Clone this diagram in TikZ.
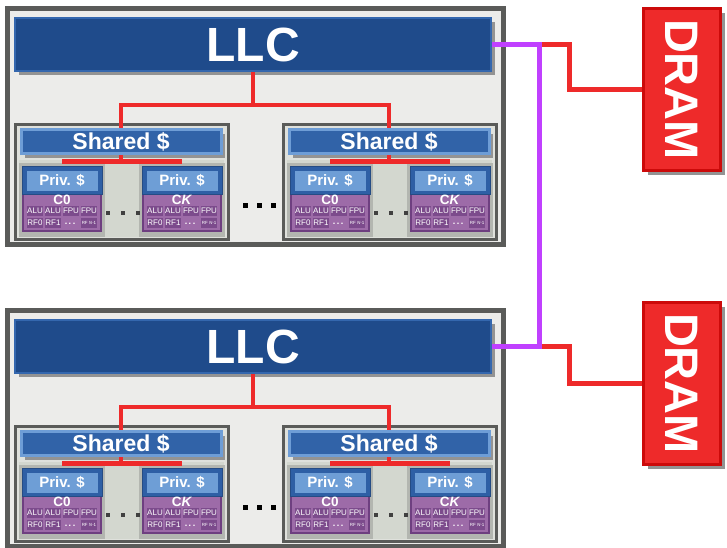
\documentclass[tikz,border=0pt]{standalone}
\usepackage{fontspec}
\setmainfont{Liberation Sans}
\usetikzlibrary{calc, shadows}

\definecolor{sockgray}{HTML}{5A5B59}
\definecolor{sockfill}{HTML}{ECECEA}
\definecolor{llcblue}{HTML}{1F4B8B}
\definecolor{llcedge}{HTML}{3467AE}
\definecolor{shblue}{HTML}{3163A8}
\definecolor{shedge}{HTML}{6E9DD6}
\definecolor{privblue}{HTML}{6E9ED6}
\definecolor{coreblue}{HTML}{2E5FA5}
\definecolor{corepurp}{HTML}{9D6BA8}
\definecolor{purpedge}{HTML}{6E3F80}
\definecolor{unitpurp}{HTML}{7C4B8C}
\definecolor{clfill}{HTML}{DFE1DC}
\definecolor{clinner}{HTML}{D3D7CF}
\definecolor{coreframe}{HTML}{B3B6B0}
\definecolor{busred}{HTML}{EE2A2A}
\definecolor{dramedge}{HTML}{CC0A0A}
\definecolor{buspurp}{HTML}{C040FF}

\newcommand{\fsz}[1]{\fontsize{#1}{#1}\selectfont}

\tikzset{
  gshadow/.style={drop shadow={shadow xshift=4pt, shadow yshift=-4pt, fill=gray!85, opacity=1}},
  socketbox/.style={draw=sockgray, line width=5pt, fill=sockfill},
  llcbox/.style={fill=llcblue, draw=llcedge, line width=2pt, gshadow, text=white,
    font=\bfseries\fsz{48}, minimum width=476pt, minimum height=53pt, inner sep=0pt},
  clusterbox/.style={draw=sockgray, line width=3pt, fill=clfill},
  sharedbox/.style={fill=shblue, draw=shedge, line width=3pt, gshadow, text=white,
    font=\bfseries\fsz{23}, minimum width=200pt, minimum height=24pt, inner sep=0pt},
  coretop/.style={fill=coreblue, draw=coreblue!80!black, line width=1pt,
    minimum width=80pt, minimum height=28pt, inner sep=0pt},
  privbox/.style={fill=privblue, text=white, font=\bfseries\fsz{15},
    minimum width=71pt, minimum height=20pt, inner sep=0pt},
  corebot/.style={fill=corepurp, draw=purpedge, line width=2pt},
  corelabel/.style={text=white, font=\bfseries\fsz{13.5}, inner sep=0pt},
  unitbox/.style={fill=unitpurp, text=white, font=\fsz{8},
    minimum width=16pt, minimum height=10pt, inner sep=0pt},
  redline/.style={busred, line width=4.5pt},
  busline/.style={busred, line width=5pt},
  purpline/.style={buspurp, line width=5pt},
  drambox/.style={fill=busred, draw=dramedge, line width=3pt, gshadow,
    minimum width=77pt, minimum height=162pt, inner sep=0pt},
  dramtext/.style={text=white, font=\bfseries\fsz{47}, rotate=-90, inner sep=0pt}
}

% one core: name, left x, top y, label
\newcommand{\core}[4]{
  \fill[coreframe] (#2-3,#3-3) rectangle (#2+83,#3+71); % frame
  \draw[corebot] (#2+1,#3+27) rectangle (#2+79,#3+65);
  \node[coretop] (#1) at (#2+40,#3+14) {};
  \node[privbox] (#1p) at (#2+40,#3+14.5) {Priv. \$};
  \node[corelabel] (#1l) at (#2+40,#3+34) {#4};
  \node[unitbox] (#1u1) at (#2+13,#3+45) {ALU};
  \node[unitbox] (#1u2) at (#2+31,#3+45) {ALU};
  \node[unitbox] (#1u3) at (#2+49,#3+45) {FPU};
  \node[unitbox] (#1u4) at (#2+67,#3+45) {FPU};
  \node[unitbox] (#1r1) at (#2+13,#3+57) {RF0};
  \node[unitbox] (#1r2) at (#2+31,#3+57) {RF1};
  \node[corelabel, font=\bfseries\fsz{9}] (#1rd) at (#2+48,#3+58) {.\,.\,.};
  \node[unitbox, font=\fsz{4.5}] (#1rn) at (#2+67,#3+57) {RF \textit{N}-1};
}

% one cluster: name, left x, top y
\newcommand{\cluster}[3]{
  \draw[clusterbox] (#2,#3) rectangle (#2+213,#3+115);
  \fill[clinner] (#2+4,#3+36) rectangle (#2+209,#3+113);
  \node[sharedbox] (#1) at (#2+106,#3+17.5) {Shared \$};
  \core{#1a}{#2+7}{#3+42}{C0}
  \core{#1k}{#2+127}{#3+42}{C\textit{K}}
  \draw[redline] ($(#1a.north)+(0,-4)$) -- ($(#1k.north)+(0,-4)$);
  \draw[redline] (#1.south) -- ++(0,6);
  \foreach \d in {93,108,123}
    \fill[black!75] (#2+\d-2,#3+87) rectangle ++(4,4);
}

% one socket: index, y offset
\newcommand{\socket}[2]{
  \draw[socketbox] (7,8+#2) rectangle (503,244+#2);
  \node[llcbox] (llc#1) at (253,44.5+#2) {LLC};
  \cluster{sh#1a}{15}{124+#2}
  \cluster{sh#1b}{283}{124+#2}
  \draw[redline] (llc#1.south) -- ++(0,33) coordinate (mid#1) -| (sh#1a.north);
  \draw[redline] (mid#1) -| (sh#1b.north);
  \foreach \d in {245,259,273}
    \fill[black] (\d-2.5,202.5+#2) rectangle ++(5,5);
}

\begin{document}
\begin{tikzpicture}[x=1pt, y=-1pt]
  \useasboundingbox (0,0) rectangle (727,547);

  \socket{1}{0}
  \socket{2}{302}

  \node[drambox] (dram1) at (682,89.5) {};
  \node[dramtext] (dram1t) at (dram1.center) {DRAM};
  \node[drambox] (dram2) at (682,383.5) {};
  \node[dramtext] (dram2t) at (dram2.center) {DRAM};

  % links
  \coordinate (j1) at ($(llc1.east)+(47,0)$);
  \coordinate (j2) at ($(llc2.east)+(47,0)$);
  \draw[busline] (j1) -- ++(30,0) |- (dram1.west);
  \draw[busline] (j2) -- ++(30,0) |- (dram2.west);
  \draw[purpline] (llc1.east) -- (j1) -- (j2) -- (llc2.east);
\end{tikzpicture}
\end{document}
